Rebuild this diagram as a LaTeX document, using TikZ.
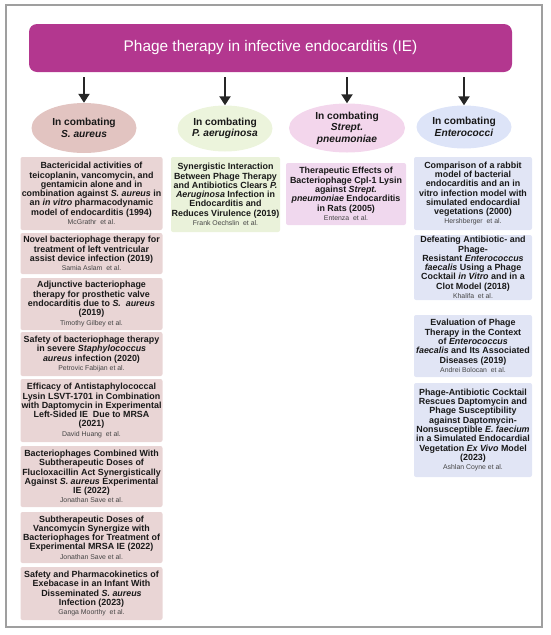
\documentclass[tikz,border=0pt]{standalone}
\usepackage{fontspec}
\setmainfont{Liberation Sans}
\usetikzlibrary{arrows.meta}
\usetikzlibrary{shapes.geometric}
\definecolor{bannercol}{HTML}{B3378F}
\definecolor{saurbox}{HTML}{E9D5D5}
\definecolor{saurbug}{HTML}{E2C4C1}
\definecolor{paerbox}{HTML}{EAF2DA}
\definecolor{paerbug}{HTML}{ECF4DC}
\definecolor{strepbox}{HTML}{F0D8EE}
\definecolor{strepbug}{HTML}{F3D6EC}
\definecolor{entbox}{HTML}{E1E5F5}
\definecolor{entbug}{HTML}{DDE4F8}
\definecolor{authorgray}{HTML}{444444}
\newcommand{\etal}[1]{{\mdseries\fontsize{6.9}{9}\selectfont\color{authorgray}#1}}

\begin{document}
\begin{tikzpicture}[x=1pt,y=-1pt,
paper/.style={rounded corners=2pt,align=center,inner xsep=0pt,inner ysep=0pt,
  text=black!90,font=\bfseries\fontsize{8.9}{9.3}\selectfont},
bug/.style={ellipse,inner sep=0pt,align=center,text=black!90,
  font=\bfseries\fontsize{10.2}{11.5}\selectfont},
down/.style={-{Triangle[width=11pt,length=9pt]},line width=2.5pt,black!85,shorten <=5pt}]
\useasboundingbox (0,0) rectangle (550,635);
\draw[gray!75,line width=1.3pt] (6,5) rectangle (542,627);
% title banner
\node[fill=bannercol,rounded corners=8pt,minimum width=483pt,minimum height=48pt,
  text=white,font=\fontsize{15.4}{18}\selectfont] (t) at (270.5,48)
  {Phage therapy in infective endocarditis (IE)};
% the four bacteria
\node[bug,fill=saurbug,minimum width=105pt,minimum height=50pt] (e1) at (84,128)
  {In combating\\\textit{S. aureus}};
\node[bug,fill=paerbug,minimum width=95pt,minimum height=46pt] (e2) at (225,128.5)
  {In combating\\\textit{P. aeruginosa}};
\node[bug,fill=strepbug,minimum width=116pt,minimum height=49pt] (e3) at (347,128)
  {In combating\\\textit{Strept.}\\\textit{pneumoniae}};
\node[bug,fill=entbug,minimum width=95pt,minimum height=43pt] (e4) at (464,127)
  {In combating\\\textit{Enterococci}};
\foreach \e in {e1,e2,e3,e4}
  \draw[down] (t.south -| \e) -- (\e);
% S. aureus
\tikzset{every node/.append style={fill=saurbox,minimum width=142pt}}
\node[paper,minimum height=73pt] (s1) at (91.5,193.5)
  {Bactericidal activities of\\teicoplanin, vancomycin, and\\gentamicin alone and in\\
  combination against \textit{S. aureus} in\\an \textit{in vitro} pharmacodynamic\\
  model of endocarditis (1994)\\\etal{McGrathr~ et al.}};
\node[paper,minimum height=41pt] (s2) at (91.5,253.5)
  {Novel bacteriophage therapy for\\treatment of left ventricular\\
  assist device infection (2019)\\\etal{Samia Aslam~ et al.}};
\node[paper,minimum height=52pt] (s3) at (91.5,304)
  {Adjunctive bacteriophage\\therapy for prosthetic valve\\
  endocarditis due to \textit{S.~ aureus}\\(2019)\\\etal{Timothy Gilbey et al.}};
\node[paper,minimum height=44pt] (s4) at (91.5,354)
  {Safety of bacteriophage therapy\\in severe \textit{Staphylococcus}\\
  \textit{aureus} infection (2020)\\\etal{Petrovic Fabijan et al.}};
\node[paper,minimum height=63pt] (s5) at (91.5,410.5)
  {Efficacy of Antistaphylococcal\\Lysin LSVT-1701 in Combination\\
  with Daptomycin in Experimental\\Left-Sided IE~ Due to MRSA\\(2021)\\
  \etal{David Huang~ et al.}};
\node[paper,minimum height=61pt] (s6) at (91.5,476.5)
  {Bacteriophages Combined With\\Subtherapeutic Doses of\\
  Flucloxacillin Act Synergistically\\Against \textit{S. aureus} Experimental\\
  IE (2022)\\\etal{Jonathan Save et al.}};
\node[paper,minimum height=51pt] (s7) at (91.5,537.5)
  {Subtherapeutic Doses of\\Vancomycin Synergize with\\
  Bacteriophages for Treatment of\\Experimental MRSA IE (2022)\\
  \etal{Jonathan Save et al.}};
\node[paper,minimum height=53pt] (s8) at (91.5,593.5)
  {Safety and Pharmacokinetics of\\Exebacase in an Infant With\\
  Disseminated \textit{S. aureus}\\Infection (2023)\\\etal{Ganga Moorthy~ et al.}};
% P. aeruginosa
\node[paper,fill=paerbox,minimum width=109pt,minimum height=75pt] (p1) at (225.5,194.5)
  {Synergistic Interaction\\Between Phage Therapy\\and Antibiotics Clears \textit{P.}\\
  \textit{Aeruginosa} Infection in\\Endocarditis and\\Reduces Virulence (2019)\\
  \etal{Frank Oechslin~ et al.}};
% Strept. pneumoniae
\node[paper,fill=strepbox,minimum width=120pt,minimum height=62pt] (r1) at (346,194)
  {Therapeutic Effects of\\Bacteriophage Cpl-1 Lysin\\against \textit{Strept.}\\
  \textit{pneumoniae} Endocarditis\\in Rats (2005)\\\etal{Entenza~ et al.}};
% Enterococci
\tikzset{every node/.append style={fill=entbox,minimum width=118pt}}
\node[paper,minimum height=73pt] (n1) at (473,193.5)
  {Comparison of a rabbit\\model of bacterial\\endocarditis and an in\\
  vitro infection model with\\simulated endocardial\\vegetations (2000)\\
  \etal{Hershberger~ et al.}};
\node[paper,minimum height=65pt] (n2) at (473,267.5)
  {Defeating Antibiotic- and\\Phage-\\Resistant \textit{Enterococcus}\\
  \textit{faecalis} Using a Phage\\Cocktail \textit{in Vitro} and in a\\
  Clot Model (2018)\\\etal{Khalifa~ et al.}};
\node[paper,minimum height=62pt] (n3) at (473,346)
  {Evaluation of Phage\\Therapy in the Context\\of \textit{Enterococcus}\\
  \textit{faecalis} and Its Associated\\Diseases (2019)\\\etal{Andrei Bolocan~ et al.}};
\node[paper,minimum height=94pt] (n4) at (473,430)
  {Phage-Antibiotic Cocktail\\Rescues Daptomycin and\\Phage Susceptibility\\
  against Daptomycin-\\Nonsusceptible \textit{E. faecium}\\in a Simulated Endocardial\\
  Vegetation \textit{Ex Vivo} Model\\(2023)\\\etal{Ashlan Coyne et al.}};
\end{tikzpicture}
\end{document}
